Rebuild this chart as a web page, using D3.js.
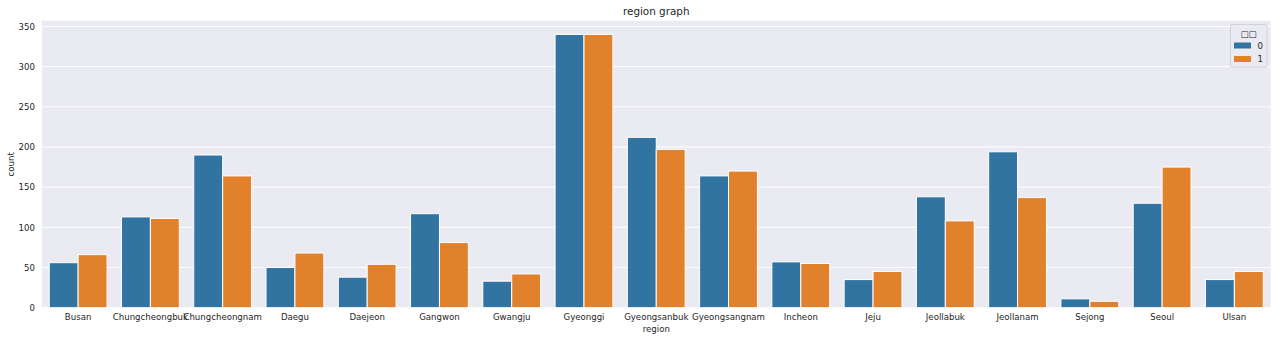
<!DOCTYPE html>
<html><head><meta charset="utf-8">
<script src="https://cdn.jsdelivr.net/npm/d3@7"></script>
<style>
html,body{margin:0;padding:0;background:#fff;}
text{font-family:"DejaVu Sans",sans-serif;fill:#262626;}
</style></head>
<body><svg id="c" width="1280" height="341"></svg>
<script>
const categories = ["Busan","Chungcheongbuk","Chungcheongnam","Daegu","Daejeon","Gangwon","Gwangju","Gyeonggi","Gyeongsanbuk","Gyeongsangnam","Incheon","Jeju","Jeollabuk","Jeollanam","Sejong","Seoul","Ulsan"];
const hueLevels = ["0","1"];
const series0 = [56,113,190,50,38,117,33,340,212,164,57,35,138,194,11,130,35];
const series1 = [66,111,164,68,54,81,42,340,197,170,55,45,108,137,8,175,45];
const yTicks = [0,50,100,150,200,250,300,350];
const colors = ["#3274A1","#E1812C"];
const title = "region graph";
const xLabel = "region";
const yLabel = "count";
const legendTitle = "\u25A1\u25A1";

const svg = d3.select("#c");
const L = 42, R = 1270.5, T = 20.8, B = 307.7;
const yMax = d3.max(series0.concat(series1)) * 1.05;

const x = d3.scaleBand().domain(categories).range([L, R]).paddingInner(0.2).paddingOuter(0.1);
const xh = d3.scaleBand().domain(hueLevels).range([0, x.bandwidth()]);
const y = d3.scaleLinear().domain([0, yMax]).range([B, T]);

svg.append("rect").attr("x", L).attr("y", T).attr("width", R - L).attr("height", B - T).attr("fill", "#EAEAF2");

// grid
svg.append("g").selectAll("line").data(yTicks).join("line")
  .attr("x1", L).attr("x2", R).attr("y1", d => y(d)).attr("y2", d => y(d))
  .attr("stroke", "#fff").attr("stroke-width", 1);

const data = [];
categories.forEach((c, i) => {
  data.push({c, h: "0", v: series0[i]});
  data.push({c, h: "1", v: series1[i]});
});
svg.append("g").selectAll("rect").data(data).join("rect")
  .attr("x", d => x(d.c) + xh(d.h))
  .attr("y", d => y(d.v))
  .attr("width", xh.bandwidth())
  .attr("height", d => y(0) - y(d.v))
  .attr("fill", d => colors[hueLevels.indexOf(d.h)])
  .attr("stroke", "#fff").attr("stroke-width", 1);

// axes
const yAxis = d3.axisLeft(y).tickValues(yTicks).tickSize(0).tickPadding(7);
const gy = svg.append("g").attr("transform", `translate(${L},0)`).call(yAxis);
gy.select(".domain").remove();
gy.selectAll("text").style("font-size", "8.6px").style("font-family", "DejaVu Sans").attr("fill", "#262626");

const xAxis = d3.axisBottom(x).tickSize(0).tickPadding(6);
const gx = svg.append("g").attr("transform", `translate(0,${B})`).call(xAxis);
gx.select(".domain").remove();
gx.selectAll("text").style("font-size", "8.6px").style("font-family", "DejaVu Sans").attr("fill", "#262626");

svg.append("text").attr("x", (L + R) / 2).attr("y", 15).attr("text-anchor", "middle")
  .style("font-size", "10.4px").text(title);
svg.append("text").attr("x", (L + R) / 2).attr("y", 332).attr("text-anchor", "middle")
  .style("font-size", "8.6px").text(xLabel);
svg.append("text").attr("transform", `translate(14,${(T + B) / 2}) rotate(-90)`).attr("text-anchor", "middle")
  .style("font-size", "8.6px").text(yLabel);

// legend
const lg = svg.append("g");
lg.append("rect").attr("x", 1230.5).attr("y", 24.5).attr("width", 36.5).attr("height", 42.5)
  .attr("rx", 2).attr("fill", "#EAEAF2").attr("fill-opacity", 0.8).attr("stroke", "#cccccc").attr("stroke-width", 0.8);
lg.append("text").attr("x", 1248.5).attr("y", 37).attr("text-anchor", "middle")
  .style("font-size", "8.6px").text(legendTitle);
hueLevels.forEach((h, i) => {
  lg.append("rect").attr("x", 1234).attr("y", 42.5 + i * 13.5).attr("width", 17).attr("height", 6)
    .attr("fill", colors[i]);
  lg.append("text").attr("x", 1257.5).attr("y", 48.5 + i * 13.5)
    .style("font-size", "8.6px").text(h);
});
</script></body></html>
